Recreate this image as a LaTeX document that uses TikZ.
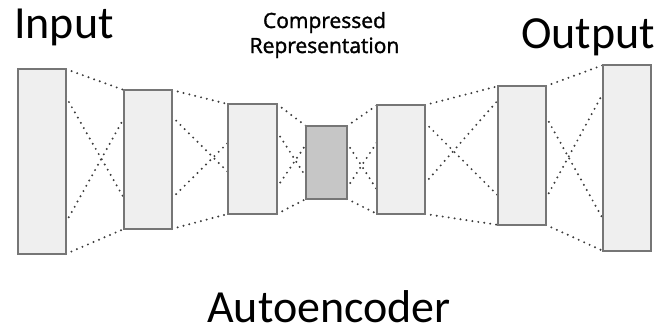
\documentclass[tikz,border=0pt]{standalone}
\usepackage{fontspec}
\setmainfont{Carlito}
\newfontfamily\labelfont[FakeBold=1.6]{Open Sans}
\usetikzlibrary{calc}

\definecolor{capa}{HTML}{EFEFEF}
\definecolor{capaoscura}{HTML}{C6C6C6}
\definecolor{borde}{HTML}{767676}
\definecolor{puntos}{HTML}{3C3C3C}

\begin{document}
\begin{tikzpicture}[x=1pt, y=-1pt,
		capa/.style={draw=borde, fill=capa, line width=1.8pt, rectangle, inner sep=0pt},
		enlace/.style={puntos, line width=2.2pt, line cap=round, dash pattern=on 0pt off 6pt},
		titulo/.style={font=\fontsize{46}{50}\selectfont, inner sep=0pt}]
	\useasboundingbox (0,0) rectangle (663,327);

	% Textos
		\node[titulo, anchor=base west] (entrada) at (14,38) {Input};
		\node[titulo, anchor=base west] (salida) at (521,48) {Output};
		\node[titulo, anchor=base] (nombre) at (329,322) {Autoencoder};
		\node[anchor=base, align=center, inner sep=0pt, font=\labelfont\fontsize{21}{25}\selectfont] (codigo) at (324.5,53) {Compressed\\Representation};

	% Capas (solo posicion, se rellenan al final)
		\node[capa, draw=none, fill=none, minimum width=46, minimum height=183] (l1) at (42,161.5) {};
		\node[capa, draw=none, fill=none, minimum width=46, minimum height=137] (l2) at (148,159.5) {};
		\node[capa, draw=none, fill=none, minimum width=47, minimum height=108] (l3) at (252.5,159) {};
		\node[capa, draw=none, fill=none, minimum width=39, minimum height=71] (l4) at (326.5,162.5) {};
		\node[capa, draw=none, fill=none, minimum width=46, minimum height=107] (l5) at (401,159.5) {};
		\node[capa, draw=none, fill=none, minimum width=46, minimum height=137] (l6) at (522,155.5) {};
		\node[capa, draw=none, fill=none, minimum width=46, minimum height=184] (l7) at (627,158) {};

	% Enlaces punteados
		% l1 - l2
		\draw[enlace] (l1.north east) -- (l2.north west);
		\draw[enlace] (l1.south east) -- (l2.south west);
		\draw[enlace] ($(l1.north east)!0.15!(l1.south east)$) -- ($(l2.north west)!0.78!(l2.south west)$);
		\draw[enlace] ($(l1.north east)!0.83!(l1.south east)$) -- ($(l2.north west)!0.20!(l2.south west)$);
		% l2 - l3
		\draw[enlace] (l2.north east) -- (l3.north west);
		\draw[enlace] (l2.south east) -- (l3.south west);
		\draw[enlace] ($(l2.north east)!0.19!(l2.south east)$) -- ($(l3.north west)!0.62!(l3.south west)$);
		\draw[enlace] ($(l2.north east)!0.78!(l2.south east)$) -- ($(l3.north west)!0.35!(l3.south west)$);
		% l3 - l4
		\draw[enlace] (l3.north east) -- (l4.north west);
		\draw[enlace] (l3.south east) -- (l4.south west);
		\draw[enlace] ($(l3.north east)!0.25!(l3.south east)$) -- ($(l4.north west)!0.70!(l4.south west)$);
		\draw[enlace] ($(l3.north east)!0.76!(l3.south east)$) -- ($(l4.north west)!0.25!(l4.south west)$);
		% l4 - l5
		\draw[enlace] (l4.north east) -- (l5.north west);
		\draw[enlace] (l4.south east) -- (l5.south west);
		\draw[enlace] ($(l4.north east)!0.23!(l4.south east)$) -- ($(l5.north west)!0.78!(l5.south west)$);
		\draw[enlace] ($(l4.north east)!0.85!(l4.south east)$) -- ($(l5.north west)!0.34!(l5.south west)$);
		% l5 - l6
		\draw[enlace] (l5.north east) -- (l6.north west);
		\draw[enlace] (l5.south east) -- (l6.south west);
		\draw[enlace] ($(l5.north east)!0.16!(l5.south east)$) -- ($(l6.north west)!0.79!(l6.south west)$);
		\draw[enlace] ($(l5.north east)!0.72!(l5.south east)$) -- ($(l6.north west)!0.10!(l6.south west)$);
		% l6 - l7
		\draw[enlace] (l6.north east) -- (l7.north west);
		\draw[enlace] (l6.south east) -- (l7.south west);
		\draw[enlace] ($(l6.north east)!0.22!(l6.south east)$) -- ($(l7.north west)!0.83!(l7.south west)$);
		\draw[enlace] ($(l6.north east)!0.81!(l6.south east)$) -- ($(l7.north west)!0.15!(l7.south west)$);

	% Capas
		\foreach \c in {l1,l2,l3,l5,l6,l7}
			\draw[capa] (\c.north west) rectangle (\c.south east);
		\draw[capa, fill=capaoscura] (l4.north west) rectangle (l4.south east);
\end{tikzpicture}
\end{document}
